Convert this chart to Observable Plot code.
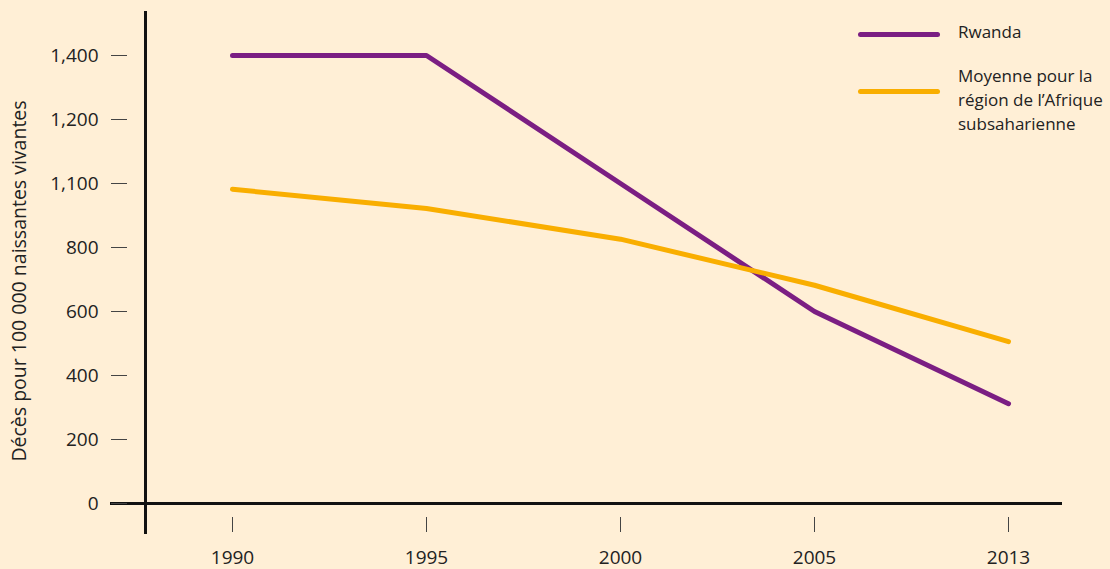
<!DOCTYPE html>
<html>
<head>
<meta charset="utf-8">
<script src="https://cdn.jsdelivr.net/npm/d3@7"></script>
<script src="https://cdn.jsdelivr.net/npm/@observablehq/plot@0.6"></script>
<style>
  html, body { margin: 0; padding: 0; background: #FFEFD6; }
  #wrap { position: relative; width: 1110px; height: 569px; font-family: "Open Sans", Lato, sans-serif; color: #222; }
  #legend { position: absolute; left: 858px; top: 0; font-size: 17px; line-height: 24px; }
  .swatch { position: absolute; left: 0; width: 82px; height: 5px; border-radius: 3px; }
  .lab { position: absolute; left: 100px; white-space: nowrap; }
  #ytitle { position: absolute; left: 18px; top: 281px; transform: translate(-50%, -50%) rotate(-90deg); white-space: nowrap; font-size: 19.5px; }
</style>
</head>
<body>
<div id="wrap"></div>
<script>
const years = ["1990", "1995", "2000", "2005", "2013"];
const rwanda = [1400, 1400, 1000, 600, 312];
const africa = [982, 922, 826, 682, 506];
const seriesNames = ["Rwanda", "Moyenne pour la région de l’Afrique subsaharienne"];
const seriesColors = ["#7B1E83", "#F9AE00"];
const yTickValues = [0, 200, 400, 600, 800, 1000, 1200, 1400];
const yTickLabels = ["0", "200", "400", "600", "800", "1,100", "1,200", "1,400"];
const yTitle = "Décès pour 100 000 naissantes vivantes";

const data = [
  ...years.map((year, i) => ({year, value: rwanda[i], series: seriesNames[0]})),
  ...years.map((year, i) => ({year, value: africa[i], series: seriesNames[1]}))
];

const chart = Plot.plot({
  width: 1110,
  height: 569,
  marginLeft: 145,
  marginRight: 48,
  marginTop: 12,
  marginBottom: 37,
  style: {background: "transparent", fontFamily: "'Open Sans', Lato, sans-serif", fontSize: "19px", color: "#222"},
  x: {type: "point", domain: years, range: [231, 1008], padding: 0},
  y: {domain: [0, 1400], range: [503, 55]},
  color: {domain: seriesNames, range: seriesColors},
  marks: [
    Plot.frame({anchor: "left", stroke: "#111", strokeWidth: 3}),
    Plot.ruleY([0], {stroke: "#111", strokeWidth: 3, insetLeft: -35}),
    Plot.axisY({ticks: yTickValues, tickFormat: d => yTickLabels[yTickValues.indexOf(d)], tickSize: 16, dx: -18, tickPadding: 13, stroke: "#444", fontSize: 19, label: null}),
    Plot.axisX({tickSize: 15, dy: -15, tickPadding: 18, stroke: "#444", fontSize: 19, label: null}),
    Plot.line(data, {x: "year", y: "value", stroke: "series", z: "series", strokeWidth: 5, strokeLinecap: "round", strokeLinejoin: "round"})
  ]
});
const wrap = document.getElementById("wrap");
wrap.appendChild(chart);

const title = document.createElement("div");
title.id = "ytitle";
title.textContent = yTitle;
wrap.appendChild(title);

const legend = document.createElement("div");
legend.id = "legend";
const items = [
  {lines: ["Rwanda"], lineY: 32, textTop: 20},
  {lines: ["Moyenne pour la", "région de l’Afrique", "subsaharienne"], lineY: 89, textTop: 64}
];
items.forEach((it, i) => {
  const sw = document.createElement("div");
  sw.className = "swatch";
  sw.style.top = it.lineY + "px";
  sw.style.background = seriesColors[i];
  legend.appendChild(sw);
  const lab = document.createElement("div");
  lab.className = "lab";
  lab.style.top = it.textTop + "px";
  lab.innerHTML = it.lines.join("<br>");
  legend.appendChild(lab);
});
wrap.appendChild(legend);
</script>
</body>
</html>
